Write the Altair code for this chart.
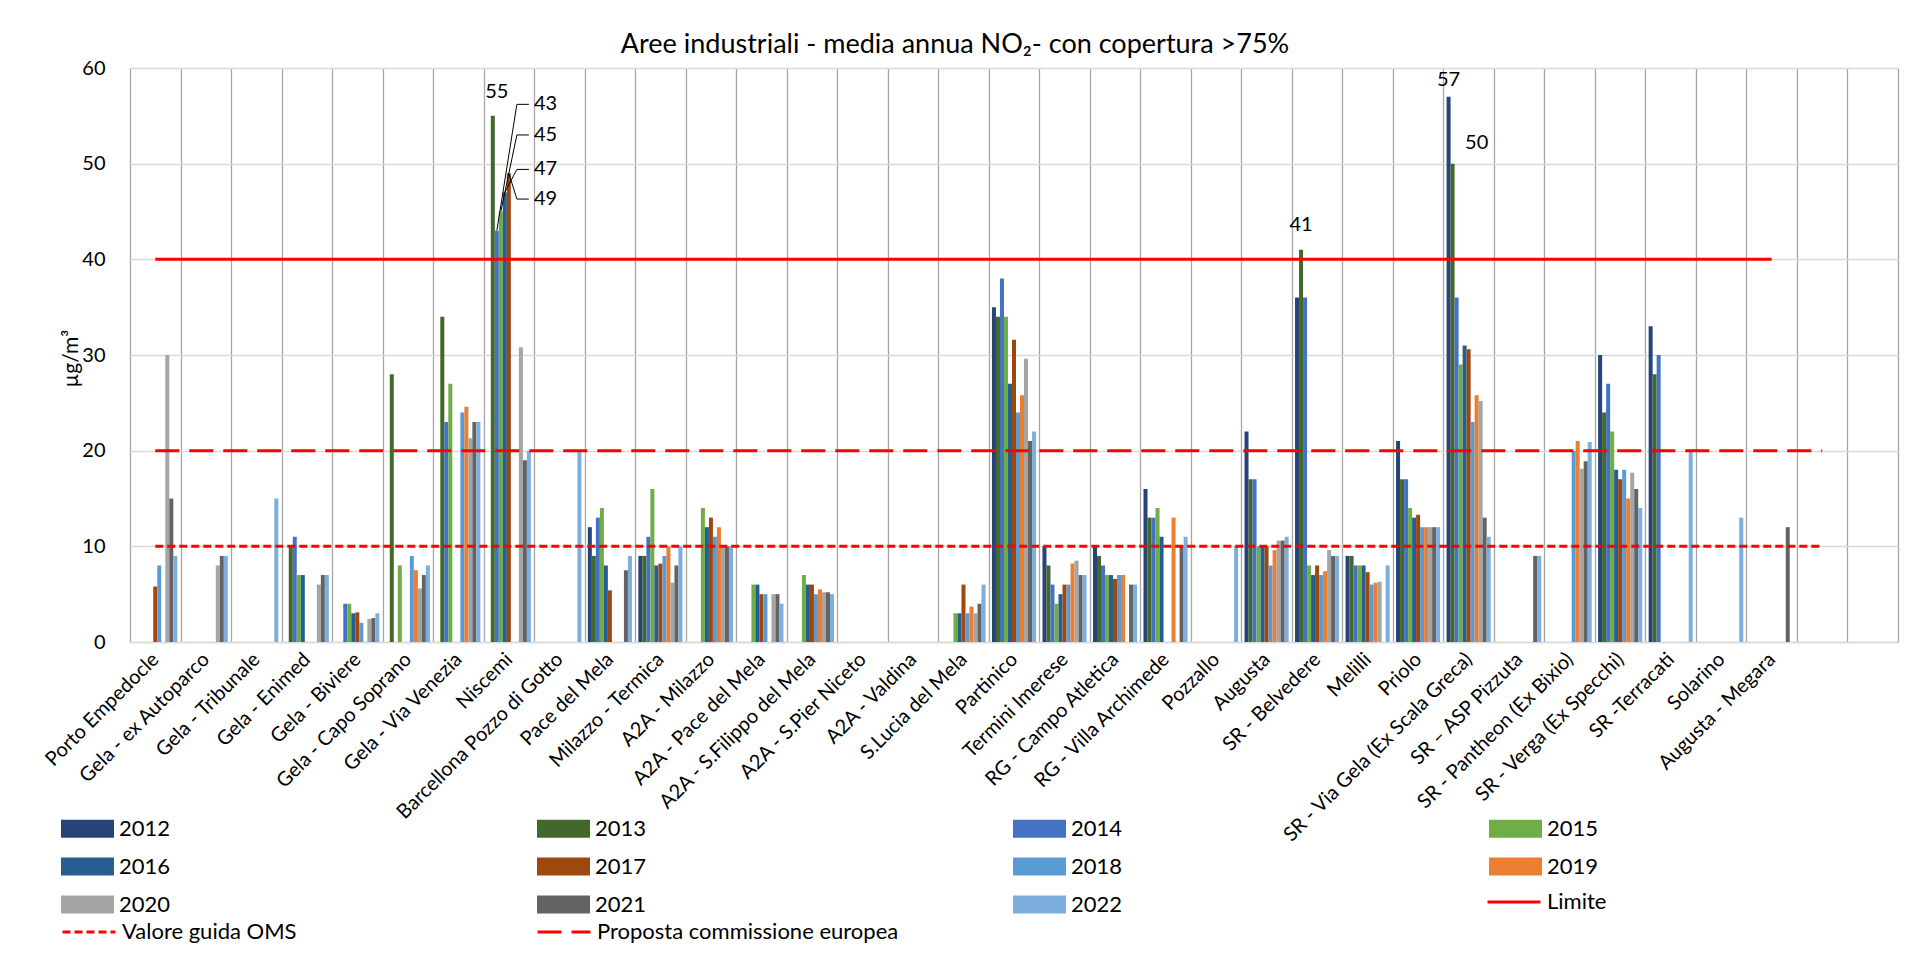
import altair as alt
import pandas as pd

FONT = "Lato"

stations = [
    "Porto Empedocle", "Gela - ex Autoparco", "Gela - Tribunale", "Gela - Enimed", "Gela - Biviere",
    "Gela - Capo Soprano", "Gela - Via Venezia", "Niscemi", "Barcellona Pozzo di Gotto", "Pace del Mela",
    "Milazzo - Termica", "A2A - Milazzo", "A2A - Pace del Mela", "A2A - S.Filippo del Mela",
    "A2A - S.Pier Niceto", "A2A - Valdina", "S.Lucia del Mela", "Partinico", "Termini Imerese",
    "RG - Campo Atletica", "RG - Villa Archimede", "Pozzallo", "Augusta", "SR - Belvedere", "Melilli",
    "Priolo", "SR - Via Gela (Ex Scala Greca)", "SR \u2013 ASP Pizzuta", "SR - Pantheon (Ex Bixio)",
    "SR - Verga (Ex Specchi)", "SR -Terracati", "Solarino", "Augusta - Megara",
]
empty_slots = ["_vuoto1", "_vuoto2"]
categories = stations + empty_slots
years = [str(y) for y in range(2012, 2023)]

N = None
y2012 = [N, N, N, N, N, N, N, N, N, 12, 9, N, N, N, N, N, N, 35, 10, 10, 16, N, 22, 36, 9, 21, 57, N, N, 30, 33, N, N]
y2013 = [N, N, N, 10, N, 28, 34, 55, N, 9, 9, N, N, N, N, N, N, 34, 8, 9, 13, N, 17, 41, 9, 17, 50, N, N, 24, 28, N, N]
y2014 = [N, N, N, 11, 4, N, 23, 43, N, 13, 11, N, N, N, N, N, N, 38, 6, 8, 13, N, 17, 36, 8, 17, 36, N, N, 27, 30, N, N]
y2015 = [N, N, N, 7, 4, 8, 27, 45, N, 14, 16, 14, 6, 7, N, N, 3, 34, 4, 7, 14, N, 10, 8, 8, 14, 29, N, N, 22, N, N, N]
y2016 = [N, N, N, 7, 3, N, N, 47, N, 8, 8, 12, 6, 6, N, N, 3, 27, 5, 7, 11, N, 10, 7, 8, 13, 31, N, N, 18, N, N, N]
y2017 = [5.8, N, N, N, 3.1, N, N, 49, N, 5.4, 8.2, 13, 5, 6, N, N, 6, 31.6, 6, 6.6, N, N, 10, 8, 7.3, 13.3, 30.6, N, N, 17, N, N, N]
y2018 = [8, N, N, N, 2, 9, 24, N, N, N, 9, 11, 5, 5, N, N, 3, 24, 6, 7, N, N, 8, 7, 6, 12, 23, N, 20, 18, N, N, N]
y2019 = [N, N, N, N, N, 7.5, 24.6, N, N, N, 10, 12, N, 5.5, N, N, 3.7, 25.8, 8.2, 7, 13, N, 9.6, 7.4, 6.2, 12, 25.8, N, 21, 15, N, N, N]
y2020 = [30, 8, N, 6, 2.4, 5.6, 21.3, 30.8, N, N, 6.2, 10, 5, 5.2, N, N, 3, 29.6, 8.5, N, N, N, 10.6, 9.6, 6.3, 12, 25.2, N, 18.1, 17.7, N, N, N]
y2021 = [15, 9, N, 7, 2.5, 7, 23, 19, N, 7.5, 8, 10, 5, 5.2, N, N, 4, 21, 7, 6, 10, N, 10.6, 9, N, 12, 13, 9, 18.9, 16, N, N, 12]
y2022 = [9, 9, 15, 7, 3, 8, 23, 20, 20, 9, 10, 10, 4, 5, N, N, 6, 22, 7, 6, 11, 10, 11, 9, 8, 12, 11, 9, 20.9, 14, 20, 13, N]
series = [y2012, y2013, y2014, y2015, y2016, y2017, y2018, y2019, y2020, y2021, y2022]
for s in series:
    assert len(s) == len(stations)

year_colors = ["#264478", "#43682B", "#4472C4", "#70AD47", "#255E91", "#9E480E",
               "#5B9BD5", "#ED7D31", "#A5A5A5", "#636363", "#7CAFDD"]
color_of = dict(zip(years, year_colors))
# the legend grid fills column by column: order the entries so that they read row by row
legend_order = [years[r * 4 + c] for c in range(4) for r in range(3) if r * 4 + c < len(years)]

limit_name = "Limite"
limit_value = 40
limit_span = 33          # categories covered by the "Limite" series
guide_names = ["Valore guida OMS", "Proposta commissione europea"]
guide_values = [10, 20]
guide_span = 34          # categories covered by the two guide series
guide_dash = [[8, 4], [24, 10]]

rows = []
for yr, vals in zip(years, series):
    for st, v in zip(stations, vals):
        if v is not None:
            rows.append({"stazione": st, "anno": yr, "valore": v})
bars_df = pd.DataFrame(rows)

limit_df = pd.DataFrame({"stazione": categories[:limit_span], "valore": limit_value, "serie": limit_name})
guide_df = pd.concat([
    pd.DataFrame({"stazione": categories[:guide_span], "valore": v, "serie": n})
    for n, v in zip(guide_names, guide_values)
])

# annotation labels
ann_text = ["55", "41", "57", "50"]
ann_station = ["Niscemi", "SR - Belvedere", "SR - Via Gela (Ex Scala Greca)", "SR - Via Gela (Ex Scala Greca)"]
ann_slot = ["2014", "2013", "2012", "2019"]
ann_y = [57.5, 43.6, 58.7, 52.2]
ann_df = pd.DataFrame({"t": ann_text, "stazione": ann_station, "anno": ann_slot, "yy": ann_y})

nis_text = ["43", "45", "47", "49"]
nis_bar_year = ["2014", "2015", "2016", "2017"]
nis_bar_val = [43, 45, 47, 49]
nis_label_y = [56.2, 53.0, 49.4, 46.3]
nis_df = pd.DataFrame({"t": nis_text, "stazione": "Niscemi", "anno": "2022", "yy": nis_label_y})
lead_rows = []
for t, by, bv, ly in zip(nis_text, nis_bar_year, nis_bar_val, nis_label_y):
    lead_rows.append({"id": t, "o": 0, "stazione": "Niscemi", "anno": by, "yy": bv})
    lead_rows.append({"id": t, "o": 1, "stazione": "Niscemi", "anno": "2019", "yy": ly})
    lead_rows.append({"id": t, "o": 2, "stazione": "Niscemi", "anno": "2022", "yy": ly})
lead_df = pd.DataFrame(lead_rows)

x_axis = alt.Axis(
    title=None, labelAngle=-45, labelAlign="right", labelBaseline="middle",
    labelFont=FONT, labelFontSize=20, labelColor="black", labelPadding=14, labelLimit=400,
    labelOverlap=False, ticks=False, domain=True, domainColor="#D9D9D9", domainWidth=1.5,
    grid=True, gridColor="#A6A6A6", gridWidth=1.3, tickBand="extent",
    labelExpr="indexof(datum.label, '_vuoto') == 0 ? '' : datum.label",
)
x_enc = alt.X("stazione:N", scale=alt.Scale(domain=categories, paddingInner=0, paddingOuter=0),
              sort=categories, axis=x_axis)
xo_enc = alt.XOffset("anno:N", scale=alt.Scale(domain=years, paddingInner=0, paddingOuter=0.8), sort=years)
y_scale = alt.Scale(domain=[0, 60], nice=False, zero=True)
y_axis = alt.Axis(
    title="\u00b5g/m\u00b3", values=[0, 10, 20, 30, 40, 50, 60], grid=True, gridColor="#D9D9D9",
    gridWidth=1.5, domain=False, ticks=False, labelFont=FONT, labelFontSize=20, labelColor="black",
    labelPadding=25, titleFont=FONT, titleFontSize=21, titleFontWeight="normal", titleColor="black",
    titleAngle=-90, titleX=-59, titleY=290, titleAlign="center", titleBaseline="middle",
)

LEG_COMMON = dict(title=None, orient="none", symbolSize=2809, labelFont=FONT, labelFontSize=22,
                  labelColor="black", labelOffset=5, labelLimit=500, padding=0, rowPadding=-2.5)

year_legend = alt.Legend(legendX=-69, legendY=734, columns=4, columnPadding=366,
                         symbolType="M-1,-0.34H1V0.34H-1Z", symbolStrokeWidth=0, **LEG_COMMON)
limit_legend = alt.Legend(legendX=1356, legendY=806, symbolType="stroke", symbolStrokeWidth=3,
                          symbolStrokeColor="#FF0000", **LEG_COMMON)
guide_legend = alt.Legend(legendX=-69, legendY=836, columns=2, columnPadding=234, symbolType="stroke",
                          symbolStrokeWidth=3, symbolStrokeColor="#FF0000", **LEG_COMMON)

bars = alt.Chart(bars_df).mark_bar().encode(
    x=x_enc, xOffset=xo_enc,
    y=alt.Y("valore:Q", scale=y_scale, axis=y_axis),
    color=alt.Color("anno:N", scale=alt.Scale(domain=legend_order, range=[color_of[y] for y in legend_order]),
                    legend=year_legend),
)
limit_line = alt.Chart(limit_df).mark_line(strokeWidth=3).encode(
    x=x_enc, y=alt.Y("valore:Q", scale=y_scale, axis=y_axis),
    stroke=alt.Stroke("serie:N", scale=alt.Scale(domain=[limit_name], range=["#FF0000"]), legend=limit_legend),
)
guide_lines = alt.Chart(guide_df).mark_line(strokeWidth=3, color="#FF0000").encode(
    x=x_enc, y=alt.Y("valore:Q", scale=y_scale, axis=y_axis),
    strokeDash=alt.StrokeDash("serie:N", scale=alt.Scale(domain=guide_names, range=guide_dash),
                              legend=guide_legend),
)
leaders = alt.Chart(lead_df).mark_line(color="black", strokeWidth=1).encode(
    x=x_enc, xOffset=xo_enc, y=alt.Y("yy:Q", scale=y_scale, axis=y_axis),
    detail="id:N", order="o:Q",
)
texts = alt.Chart(ann_df).mark_text(font=FONT, fontSize=20, color="black", baseline="middle").encode(
    x=x_enc, xOffset=xo_enc, y=alt.Y("yy:Q", scale=y_scale, axis=y_axis), text="t:N",
)
nis_texts = alt.Chart(nis_df).mark_text(font=FONT, fontSize=20, color="black", baseline="middle",
                                        align="left", dx=5).encode(
    x=x_enc, xOffset=xo_enc, y=alt.Y("yy:Q", scale=y_scale, axis=y_axis), text="t:N",
)

chart = alt.layer(bars, limit_line, guide_lines, leaders, texts, nis_texts).resolve_legend(
    stroke="independent", strokeDash="independent", color="independent"
).properties(
    width=1768, height=574,
    title=alt.TitleParams(
        "Aree industriali - media annua NO\u2082- con copertura >75%", font=FONT, fontSize=27,
        fontWeight="normal", color="black", anchor="middle", dx=-59, offset=-1,
    ),
    autosize=alt.AutoSizeParams(type="none"),
    padding={"left": 122, "top": 60, "right": 4, "bottom": 304},
).configure_view(stroke=None).configure(background="white")

chart.save("out.html", embed_options={"renderer": "svg", "actions": False})
